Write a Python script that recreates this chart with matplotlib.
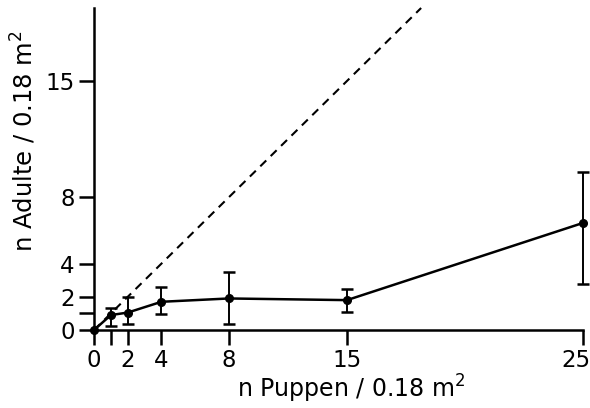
import numpy as np
import matplotlib.pyplot as plt
from matplotlib.transforms import ScaledTranslation

# Puppen- vs. Adultendichte
puppen = [0, 1, 2, 4, 8, 15, 25]
adulte = [0, 0.9, 1.05, 1.7, 1.9, 1.8, 6.45]
adulte_min = [0, 0.25, 0.36, 0.96, 0.36, 1.08, 2.77]
adulte_max = [0, 1.3, 2.0, 2.6, 3.5, 2.5, 9.5]

x_ticks = [0, 1, 2, 4, 8, 15, 25]
x_ticklabels = ['0', '', '2', '4', '8', '15', '25']
y_ticks = [0, 1, 2, 4, 8, 15]
y_ticklabels = ['0', '', '2', '4', '8', '15']

# x-Achse: zwischen 15 und 25 gestreckt
x_knoten = [0, 15, 25]
x_pos = [0, 15, 29]

def vorwaerts(x):
    return np.interp(x, x_knoten, x_pos)

def rueckwaerts(x):
    return np.interp(x, x_pos, x_knoten)

plt.rcParams['font.family'] = ['DejaVu Sans']

fig = plt.figure(figsize=(5.9, 4.08), dpi=100)
ax = fig.add_axes([94 / 590, 78 / 408, (583 - 94) / 590, (330 - 8) / 408])
ax.set_xscale('function', functions=(vorwaerts, rueckwaerts))

lw = 1.8
y = np.array(adulte)
yerr = [y[1:] - np.array(adulte_min[1:]), np.array(adulte_max[1:]) - y[1:]]

# Winkelhalbierende (Adulte = Puppen), gerade in Achsenposition
y_ende = 19.4
ax.plot([0, float(rueckwaerts(y_ende))], [0, y_ende], color='black', lw=1.5,
        ls=(0, (4, 3)), clip_on=False)

ax.plot(puppen, adulte, color='black', lw=lw, marker='o', ms=5.5, clip_on=False, zorder=3)
ax.errorbar(puppen[1:], adulte[1:], yerr=yerr, fmt='none', ecolor='black',
            elinewidth=1.4, capsize=4.5, capthick=1.8, clip_on=False)

ax.set_xlim(0, 25)
ax.set_ylim(0, y_ende)
ax.set_xticks(x_ticks)
ax.set_xticklabels(x_ticklabels)
ax.set_yticks(y_ticks)
ax.set_yticklabels(y_ticklabels)
ax.minorticks_off()

for s in ['top', 'right']:
    ax.spines[s].set_visible(False)
for s in ['left', 'bottom']:
    ax.spines[s].set_linewidth(lw)
ax.tick_params(axis='both', direction='out', length=10.5, width=lw, labelsize=16.5)
ax.tick_params(axis='x', pad=3.5)
ax.tick_params(axis='y', pad=3.5)

# letzte Beschriftung etwas nach links, damit sie im Bild bleibt
letzte = ax.get_xticklabels()[-1]
letzte.set_transform(letzte.get_transform() + ScaledTranslation(-7 / 100, 0, fig.dpi_scale_trans))

fig.text(237 / 590, 1 - 398 / 408, r'n Puppen / 0.18 m$^{2}$', fontsize=17,
         ha='left', va='baseline')
fig.text(24 / 590, 1 - 141 / 408, r'n Adulte / 0.18 m$^{2}$', fontsize=17.5,
         ha='center', va='center', rotation=90)

fig.savefig('out.png', dpi=100)
